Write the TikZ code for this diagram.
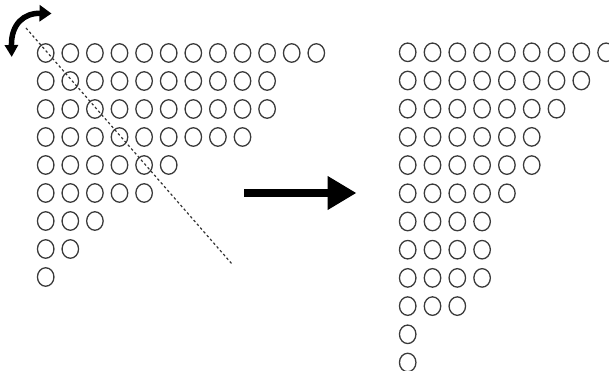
\documentclass[tikz,border=0pt]{standalone}
\usetikzlibrary{shapes.geometric,arrows.meta}
\definecolor{ring}{HTML}{3A3A3A}
\tikzset{
  dot/.style={ellipse, draw=ring, line width=1.3pt, minimum width=16.5pt, minimum height=18.5pt, inner sep=0pt},
  diag/.style={draw=black!80, line width=1.2pt, dash pattern=on 2.5pt off 2.5pt},
  bigarrow/.style={line width=8pt, -{Triangle[length=29pt,width=32pt]}},
  flip/.style={line width=5.5pt, {Triangle[length=12pt,width=13pt]}-{Triangle[length=12pt,width=16pt]}}
}
\begin{document}
\begin{tikzpicture}[x=1pt,y=-1pt]
\useasboundingbox (0,0) rectangle (609,371);
\clip (0,0) rectangle (609,371);
% left diagram
\foreach \n [count=\r] in {12,10,10,9,6,5,3,2,1} {
  \foreach \c in {1,...,\n} {
    \node[dot] (L\r-\c) at ({45.7+24.6*(\c-1)}, {53+28*(\r-1)}) {};
  }
}
% right diagram
\foreach \n [count=\r] in {9,8,7,6,6,5,4,4,4,3,1,1} {
  \foreach \c in {1,...,\n} {
    \node[dot] (R\r-\c) at ({407.7+24.8*(\c-1)}, {52.3+28.2*(\r-1)}) {};
  }
}
% diagonal
\coordinate (d1) at (26,28);
\coordinate (d2) at (232,264);
\draw[diag] (d1) -- (d2);
% big arrow
\coordinate (a1) at (244,193);
\coordinate (a2) at (356.5,193);
\draw[bigarrow] (a1) -- (a2);
% curved double arrow
\coordinate (c1) at (11.7,57);
\coordinate (c2) at (51.5,13.5);
\draw[flip] (c1) .. controls (11,24) and (24,13) .. (c2);
\end{tikzpicture}
\end{document}
